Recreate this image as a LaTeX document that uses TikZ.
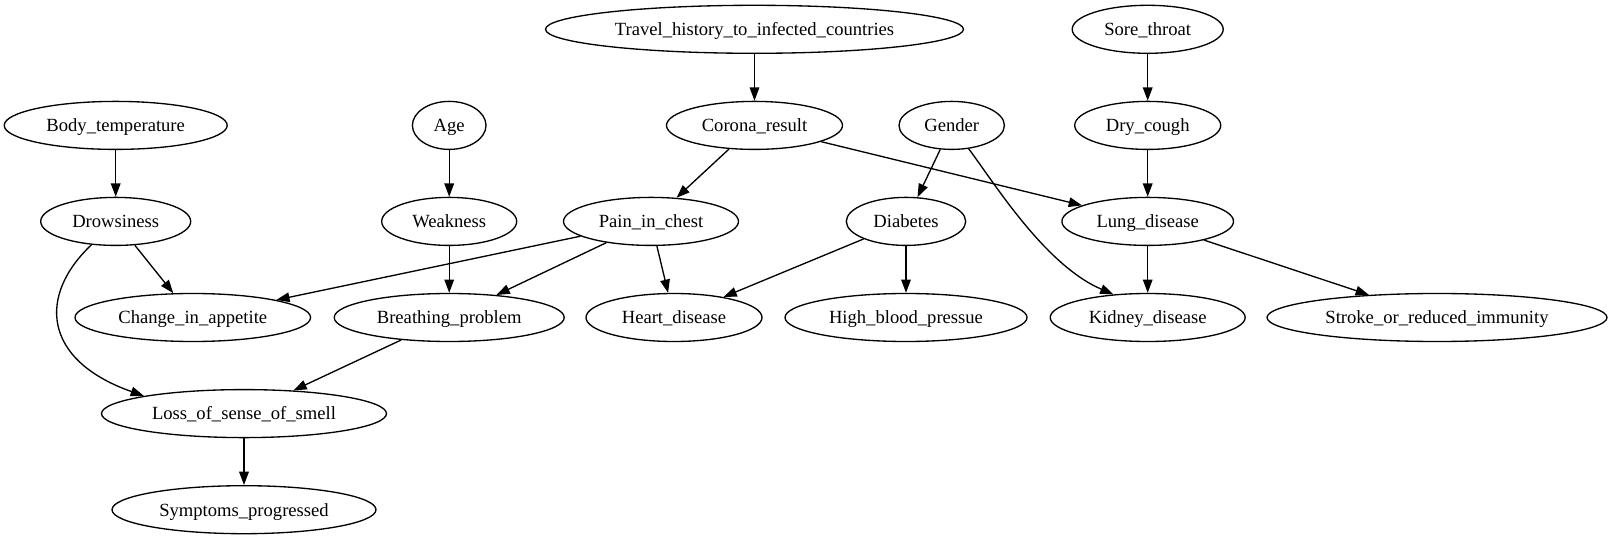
\documentclass[tikz,border=0pt]{standalone}
\usepackage{fontspec}
\setmainfont{Liberation Serif}
\usetikzlibrary{shapes.geometric,arrows.meta}
\newcommand\ztxt[1]{\makebox[0pt]{#1}}
\tikzset{
  nd/.style={draw, ellipse, line width=1.33bp, inner sep=0pt, minimum height=48bp,
    text height=12.6bp, text depth=0pt,
    font=\fontsize{18.67}{22}\selectfont},
  edge/.style={line width=1.33bp, -{Triangle[length=13.3bp,width=9.6bp]}}
}
\begin{document}
\begin{tikzpicture}[x=1bp,y=-1bp]
\useasboundingbox (0,0) rectangle (1612,539);
% rank 0
\node[nd, minimum width=418bp] (travel) at (754.5,29.3) {\ztxt{Travel\_history\_to\_infected\_countries}};
\node[nd, minimum width=151bp] (sore) at (1147.7,29.3) {\ztxt{Sore\_throat}};
% rank 1
\node[nd, minimum width=223bp] (body) at (115.7,125.4) {\ztxt{Body\_temperature}};
\node[nd, minimum width=73.6bp] (age) at (449.2,125.4) {\ztxt{Age}};
\node[nd, minimum width=176bp] (corona) at (754.5,125.4) {\ztxt{Corona\_result}};
\node[nd, minimum width=105.4bp] (gender) at (951.7,125.4) {\ztxt{Gender}};
\node[nd, minimum width=146bp] (dry) at (1147.7,125.4) {\ztxt{Dry\_cough}};
% rank 2
\node[nd, minimum width=150bp] (drowsy) at (115.7,221.4) {\ztxt{Drowsiness}};
\node[nd, minimum width=135bp] (weak) at (449.2,221.4) {\ztxt{Weakness}};
\node[nd, minimum width=175bp] (pain) at (651,221.4) {\ztxt{Pain\_in\_chest}};
\node[nd, minimum width=119.4bp] (diab) at (906,221.4) {\ztxt{Diabetes}};
\node[nd, minimum width=171.6bp] (lung) at (1147.7,221.4) {\ztxt{Lung\_disease}};
% rank 3
\node[nd, minimum width=235.6bp] (change) at (192.8,317.5) {\ztxt{Change\_in\_appetite}};
\node[nd, minimum width=230bp] (breath) at (449.2,317.5) {\ztxt{Breathing\_problem}};
\node[nd, minimum width=176bp] (heart) at (674,317.5) {\ztxt{Heart\_disease}};
\node[nd, minimum width=242bp] (hbp) at (906,317.5) {\ztxt{High\_blood\_pressue}};
\node[nd, minimum width=195bp] (kidney) at (1147.7,317.5) {\ztxt{Kidney\_disease}};
\node[nd, minimum width=340bp] (stroke) at (1437,317.5) {\ztxt{Stroke\_or\_reduced\_immunity}};
% rank 4
\node[nd, minimum width=285bp] (loss) at (244,413.6) {\ztxt{Loss\_of\_sense\_of\_smell}};
% rank 5
\node[nd, minimum width=264bp] (sympt) at (244,509.7) {\ztxt{Symptoms\_progressed}};
% edges
\draw[edge] (travel) -- (corona);
\draw[edge] (sore) -- (dry);
\draw[edge] (body) -- (drowsy);
\draw[edge] (age) -- (weak);
\draw[edge] (corona) -- (pain);
\draw[edge] (corona) -- (lung);
\draw[edge] (gender) -- (diab);
\draw[edge] (gender.-54) .. controls (995,184) and (1045,265) .. (kidney.146);
\draw[edge] (dry) -- (lung);
\draw[edge] (drowsy) -- (change);
\draw[edge] (drowsy.-136) .. controls (38,295) and (42,360) .. (loss.170.5);
\draw[edge] (weak) -- (breath);
\draw[edge] (pain) -- (change);
\draw[edge] (pain) -- (breath);
\draw[edge] (pain) -- (heart);
\draw[edge] (diab) -- (heart);
\draw[edge] (diab) -- (hbp);
\draw[edge] (lung) -- (kidney);
\draw[edge] (lung) -- (stroke);
\draw[edge] (breath) -- (loss);
\draw[edge] (loss) -- (sympt);
\end{tikzpicture}
\end{document}
